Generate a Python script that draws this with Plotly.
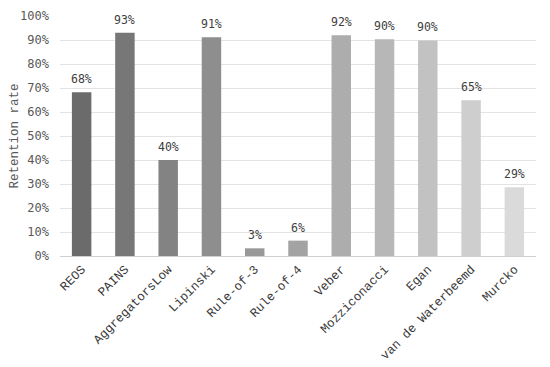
import plotly.graph_objects as go

categories = ["REOS", "PAINS", "AggregatorsLow", "Lipinski", "Rule-of-3", "Rule-of-4",
              "Veber", "Mozziconacci", "Egan", "van de Waterbeemd", "Murcko"]
retention = [0.682, 0.930, 0.400, 0.911, 0.032, 0.064, 0.920, 0.903, 0.898, 0.649, 0.286]
bar_colors = ["#6b6b6b", "#777777", "#838383", "#8e8e8e", "#999999", "#a3a3a3",
              "#adadad", "#b7b7b7", "#c2c2c2", "#cecece", "#dadada"]
y_ticks = [0, 0.1, 0.2, 0.3, 0.4, 0.5, 0.6, 0.7, 0.8, 0.9, 1.0]

fig = go.Figure(go.Bar(
    x=categories, y=retention,
    marker=dict(color=bar_colors, line=dict(width=0)),
))

for c, v in zip(categories, retention):
    fig.add_annotation(x=c, y=v, text=f"{round(v * 100)}%", showarrow=False,
                       yanchor="bottom", yshift=4,
                       font=dict(family="DejaVu Sans Mono", size=11.5, color="#404040"))

fig.update_layout(
    width=550, height=367,
    margin=dict(l=52, r=22, t=8, b=119),
    paper_bgcolor="white", plot_bgcolor="white",
    bargap=0.55, showlegend=False,
    xaxis=dict(tickangle=-45, automargin=False,
               tickfont=dict(family="Liberation Mono", size=12.5, color="#3a3a3a"),
               showline=True, linecolor="#d0d0d0", linewidth=1, ticks=""),
    yaxis=dict(range=[0, 1.0], tickvals=y_ticks, tickformat=".0%", automargin=False,
               tickfont=dict(family="DejaVu Sans Mono", size=12, color="#595959"),
               ticklabelstandoff=10,
               gridcolor="#e3e3e3", gridwidth=1, zeroline=False,
               title=dict(text="Retention rate", standoff=25,
                          font=dict(family="Liberation Mono", size=12.5, color="#595959"))),
)

fig.write_html("out.html")
